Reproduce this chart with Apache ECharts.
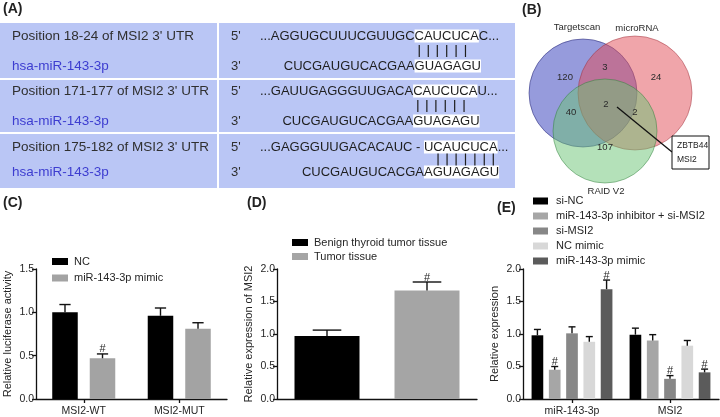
<!DOCTYPE html>
<html><head><meta charset="utf-8">
<script src="https://cdn.jsdelivr.net/npm/echarts@6/dist/echarts.min.js"></script>
<style>html,body{margin:0;padding:0;background:#fff}#c{width:720px;height:417px}</style>
</head><body><div id="c"></div>
<script>
// ---------- Panel A data ----------
const siteLabels = ["Position 18-24 of MSI2 3' UTR", "Position 171-177 of MSI2 3' UTR", "Position 175-182 of MSI2 3' UTR"];
const mirName = 'hsa-miR-143-3p';
const utrPrefix = ['...AGGUGCUUUCGUUGC', '...GAUUGAGGGUUGACA', '...GAGGGUUGACACAUC - '];
const utrSite = ['CAUCUCA', 'CAUCUCA', 'UCAUCUCA'];
const utrSuffix = ['C...', 'U...', '...'];
const mirPrefix = ['CUCGAUGUCACGAA', 'CUCGAUGUCACGAA', 'CUCGAUGUCACGA'];
const mirSite = ['GUAGAGU', 'GUAGAGU', 'AGUAGAGU'];
const pairStart = [0, 0, 1];
const pairCount = [6, 6, 7];

// ---------- Panel B data ----------
const vennSets = ['Targetscan', 'microRNA', 'RAID V2'];
const vennOnly = [120, 24, 107];          // Targetscan, microRNA, RAID V2 only
const vennPairs = [3, 40, 2];             // T&m, T&R, m&R
const vennAll = 2;
const vennGenes = ['ZBTB44', 'MSI2'];

// ---------- Panel C data ----------
const catC = ['MSI2-WT', 'MSI2-MUT'];
const seriesC = ['NC', 'miR-143-3p mimic'];
const meanC = [[1.00, 0.96], [0.47, 0.81]];
const errC = [[0.09, 0.09], [0.05, 0.07]];
const sigC = [['', ''], ['#', '']];

// ---------- Panel D data ----------
const catD = ['Benign thyroid tumor tissue', 'Tumor tissue'];
const meanD = [0.97, 1.67];
const errD = [0.09, 0.13];
const sigD = ['', '#'];

// ---------- Panel E data ----------
const catE = ['miR-143-3p', 'MSI2'];
const seriesE = ['si-NC', 'miR-143-3p inhibitor + si-MSI2', 'si-MSI2', 'NC mimic', 'miR-143-3p mimic'];
const meanE = [[0.98, 0.99], [0.45, 0.90], [1.01, 0.31], [0.88, 0.82], [1.69, 0.41]];
const errE = [[0.09, 0.10], [0.05, 0.09], [0.10, 0.05], [0.08, 0.08], [0.14, 0.05]];
const sigE = [['', ''], ['#', ''], ['', '#'], ['', ''], ['#', '#']];

const yMaxC = 1.5, yMaxD = 2.0, yMaxE = 2.0, yStep = 0.5;
const yNames = ['Relative luciferase activity', 'Relative expression of MSI2', 'Relative expression'];
const panelLabels = ['(A)', '(B)', '(C)', '(D)', '(E)'];

// ---------- styling ----------
const FONT = 'Liberation Sans, Arial, sans-serif';
const TXT = '#262626';
const colC = ['#000000', '#a3a3a3'];
const colD = ['#000000', '#a5a5a5'];
const colE = ['#000000', '#a6a6a6', '#878787', '#d8d8d8', '#5b5b5b'];

const chart = echarts.init(document.getElementById('c'), null, {renderer: 'canvas', width: 720, height: 417});

const mctx = document.createElement('canvas').getContext('2d');
const SEQ_SIZE = 13;
mctx.font = SEQ_SIZE + 'px ' + FONT;
const mw = s => mctx.measureText(s).width;

// ---------- graphic: panel A ----------
const G = [];
const tblX = 0, tblW = 515, tblTop = 23, tblBot = 188;
const line1 = [36, 91, 147];
const line2 = [66, 121, 172];
const tableBlue = '#bac6f5';
G.push({type: 'rect', shape: {x: tblX, y: tblTop, width: tblW, height: tblBot - tblTop}, style: {fill: tableBlue}, silent: true});
G.push({type: 'line', shape: {x1: 218, y1: tblTop, x2: 218, y2: tblBot}, style: {stroke: '#ffffff', lineWidth: 2}});
[79, 133].forEach(y => G.push({type: 'line', shape: {x1: 0, y1: y, x2: tblW, y2: y}, style: {stroke: '#ffffff', lineWidth: 2}}));
const seqX = 260;
for (let r = 0; r < 3; r++) {
  G.push({type: 'text', x: 12, y: line1[r], style: {text: siteLabels[r], fontSize: 13.5, fontFamily: FONT, fill: '#303030', verticalAlign: 'middle'}});
  G.push({type: 'text', x: 12, y: line2[r], style: {text: mirName, fontSize: 13.5, fontFamily: FONT, fill: '#3d3dd0', verticalAlign: 'middle'}});
  G.push({type: 'text', x: 231, y: line1[r], style: {text: "5'", fontSize: 13, fontFamily: FONT, fill: '#303030', verticalAlign: 'middle'}});
  G.push({type: 'text', x: 231, y: line2[r], style: {text: "3'", fontSize: 13, fontFamily: FONT, fill: '#303030', verticalAlign: 'middle'}});
  const rich = {n: {fontSize: SEQ_SIZE, fontFamily: FONT, fill: '#1e1e1e', lineHeight: 17}, h: {fontSize: SEQ_SIZE, fontFamily: FONT, fill: '#1e1e1e', backgroundColor: '#ffffff', lineHeight: 17}};
  G.push({type: 'text', x: seqX, y: line1[r], style: {text: '{n|' + utrPrefix[r] + '}{h|' + utrSite[r] + '}{n|' + utrSuffix[r] + '}', rich: rich, verticalAlign: 'middle'}});
  const siteX = seqX + mw(utrPrefix[r]);
  const botX = siteX - mw(mirPrefix[r]);
  G.push({type: 'text', x: botX, y: line2[r], style: {text: '{n|' + mirPrefix[r] + '}{h|' + mirSite[r] + '}', rich: rich, verticalAlign: 'middle'}});
  const midY = (line1[r] + line2[r]) / 2;
  for (let k = pairStart[r]; k < pairStart[r] + pairCount[r]; k++) {
    const cx = siteX + mw(utrSite[r].slice(0, k)) + mw(utrSite[r][k]) / 2;
    G.push({type: 'line', shape: {x1: cx, y1: midY - 6, x2: cx, y2: midY + 6}, style: {stroke: '#1e1e1e', lineWidth: 1.2}});
  }
}

// ---------- graphic: panel B (Venn) ----------
const circles = [
  {cx: 583, cy: 93, r: 54, fill: 'rgba(45,55,185,0.5)', stroke: 'rgba(40,40,120,0.55)'},
  {cx: 635, cy: 93, r: 57, fill: 'rgba(225,75,85,0.5)', stroke: 'rgba(150,40,50,0.45)'},
  {cx: 605, cy: 131, r: 52, fill: 'rgba(105,195,115,0.5)', stroke: 'rgba(40,120,50,0.45)'}
];
circles.forEach(c => G.push({type: 'circle', shape: {cx: c.cx, cy: c.cy, r: c.r}, style: {fill: c.fill, stroke: c.stroke, lineWidth: 1}}));
const vt = (t, x, y) => G.push({type: 'text', x: x, y: y, style: {text: String(t), fontSize: 9.5, fontFamily: FONT, fill: '#2a2a2a', align: 'center', verticalAlign: 'middle'}});
vt(vennSets[0], 577, 27); vt(vennSets[1], 637, 28); vt(vennSets[2], 606, 191);
vt(vennOnly[0], 565, 77); vt(vennOnly[1], 656, 77); vt(vennOnly[2], 605, 147);
vt(vennPairs[0], 605, 67); vt(vennPairs[1], 571, 112); vt(vennPairs[2], 635, 112);
vt(vennAll, 606, 104);
G.push({type: 'line', shape: {x1: 617, y1: 107, x2: 672, y2: 152}, style: {stroke: '#111', lineWidth: 1.3}});
G.push({type: 'rect', shape: {x: 672, y: 136, width: 37, height: 33}, style: {fill: '#fff', stroke: '#111', lineWidth: 1}});
vennGenes.forEach((g, i) => G.push({type: 'text', x: 677, y: 146 + i * 14, style: {text: g, fontSize: 8.5, fontFamily: FONT, fill: '#222', verticalAlign: 'middle'}}));

// ---------- panel labels ----------
const labPos = [[3, 9], [522, 10], [3, 203], [247, 203], [497, 208]];
panelLabels.forEach((t, i) => G.push({type: 'text', x: labPos[i][0], y: labPos[i][1], style: {text: t, fontSize: 14, fontWeight: 'bold', fontFamily: FONT, fill: '#222', verticalAlign: 'middle'}}));

// ---------- axes ----------
const axLine = {show: true, lineStyle: {color: '#111', width: 1.3}};
function yAx(gi, max, name) {
  return {type: 'value', gridIndex: gi, min: 0, max: max, interval: yStep, name: name, nameLocation: 'middle', nameGap: 23,
    nameTextStyle: {fontSize: 11, fontFamily: FONT, color: TXT},
    axisLine: axLine, axisTick: {show: true, length: 4, lineStyle: {color: '#111', width: 1.3}},
    axisLabel: {fontSize: 10.5, fontFamily: FONT, color: TXT, margin: 2, formatter: v => v.toFixed(1)},
    splitLine: {show: false}};
}
function xAx(gi, data, showLab, showTick) {
  return {type: 'category', gridIndex: gi, data: data, axisLine: axLine,
    axisTick: {show: showTick, alignWithLabel: true, length: 4, lineStyle: {color: '#111', width: 1.3}},
    axisLabel: {show: showLab, fontSize: 10.5, fontFamily: FONT, color: TXT, margin: 7, interval: 0}};
}

function errSeries(ai, i, n, cg, g, means, errs, sigs, fixedFrac) {
  return {type: 'custom', xAxisIndex: ai, yAxisIndex: ai, z: 5, silent: true,
    data: means.map((m, k) => [k, m, errs[k]]),
    renderItem: function (params, api) {
      const k = api.value(0), m = api.value(1), e = api.value(2);
      const p0 = api.coord([k, m]), p1 = api.coord([k, m + e]);
      const band = api.size([1, 0])[0];
      let w, cx;
      if (fixedFrac) { w = band * fixedFrac; cx = p0[0]; }
      else { const rem = band * (1 - cg); w = rem / (n + (n - 1) * g); cx = p0[0] - rem / 2 + i * w * (1 + g) + w / 2; }
      const hw = Math.max(w * 0.22, 3.5);
      const ch = [
        {type: 'line', shape: {x1: cx, y1: p0[1], x2: cx, y2: p1[1]}, style: {stroke: '#111', lineWidth: 1.4}},
        {type: 'line', shape: {x1: cx - hw, y1: p1[1], x2: cx + hw, y2: p1[1]}, style: {stroke: '#111', lineWidth: 1.4}}
      ];
      const s = sigs[params.dataIndex];
      if (s) ch.push({type: 'text', x: cx, y: p1[1] + 1, style: {text: s, fontSize: 11, fontFamily: FONT, fill: TXT, align: 'center', verticalAlign: 'bottom'}});
      return {type: 'group', children: ch};
    }};
}

const cgC = 0.34, gC = 0.47, cgE = 0.175, gE = 0.48;
const series = [];
seriesC.forEach((nm, i) => series.push({type: 'bar', name: nm, xAxisIndex: 0, yAxisIndex: 0, data: meanC[i], barGap: (gC * 100) + '%', barCategoryGap: (cgC * 100) + '%', itemStyle: {color: colC[i]}}));
seriesC.forEach((nm, i) => series.push(errSeries(0, i, seriesC.length, cgC, gC, meanC[i], errC[i], sigC[i])));
catD.forEach((nm, i) => series.push({type: 'bar', name: nm, xAxisIndex: 1, yAxisIndex: 1, data: meanD.map((v, k) => k === i ? v : '-'), barGap: '-100%', barWidth: '65%', itemStyle: {color: colD[i]}}));
series.push(errSeries(1, 0, 1, 0, 0, meanD, errD, sigD, 0.65));
seriesE.forEach((nm, i) => series.push({type: 'bar', name: nm + ' ', xAxisIndex: 2, yAxisIndex: 2, data: meanE[i], barGap: (gE * 100) + '%', barCategoryGap: (cgE * 100) + '%', itemStyle: {color: colE[i]}}));
seriesE.forEach((nm, i) => series.push(errSeries(2, i, seriesE.length, cgE, gE, meanE[i], errE[i], sigE[i])));

const legBase = {orient: 'vertical', icon: 'rect', itemHeight: 7, selectedMode: false, padding: 0, formatter: n => n.trim()};
chart.setOption({
  backgroundColor: '#ffffff',
  animation: false,
  graphic: G,
  grid: [
    {left: 36, top: 269, width: 191, height: 130},
    {left: 277, top: 269, width: 200, height: 130},
    {left: 523, top: 269, width: 196, height: 130}
  ],
  xAxis: [xAx(0, catC, true, true), xAx(1, catD, false, false), xAx(2, catE, true, true)],
  yAxis: [yAx(0, yMaxC, yNames[0]), yAx(1, yMaxD, yNames[1]), yAx(2, yMaxE, yNames[2])],
  legend: [
    Object.assign({}, legBase, {data: seriesC, left: 52, top: 256, itemWidth: 16, itemGap: 5.5, textStyle: {fontSize: 11, fontFamily: FONT, color: TXT, padding: [0, 0, 0, 1]}}),
    Object.assign({}, legBase, {data: catD, left: 292, top: 237, itemWidth: 16, itemGap: 3, textStyle: {fontSize: 11, fontFamily: FONT, color: TXT, padding: [0, 0, 0, 1]}}),
    Object.assign({}, legBase, {data: seriesE.map(n => n + ' '), left: 533, top: 195.5, itemWidth: 15, itemGap: 4, textStyle: {fontSize: 11, fontFamily: FONT, color: TXT, padding: [0, 0, 0, 3]}})
  ],
  series: series
});
</script></body></html>
